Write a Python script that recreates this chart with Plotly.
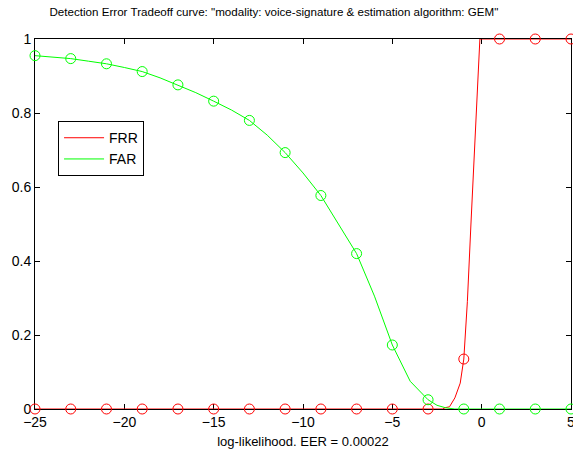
import plotly.graph_objects as go

# Line samples
far_x = [-25, -24, -23, -22, -21, -20, -19, -18, -17, -16, -15, -14, -13, -12, -11, -10,
         -9, -8, -7, -6, -5, -4, -3, -2.5, -2, -1.5, -1, 0, 1, 2, 3, 4, 5]
far_y = [0.955, 0.951, 0.947, 0.940, 0.933, 0.923, 0.912, 0.895, 0.876, 0.855, 0.832, 0.808,
         0.780, 0.740, 0.693, 0.638, 0.577, 0.500, 0.420, 0.305, 0.173, 0.075, 0.025, 0.010,
         0.003, 0.0, 0.0, 0.0, 0.0, 0.0, 0.0, 0.0, 0.0]

frr_x = [-25, -20, -15, -10, -5, -2.2, -2.0, -1.8, -1.5, -1.2, -1.0, -0.8, -0.6, -0.4, -0.2, -0.1, 0, 1, 3, 5]
frr_y = [0.0, 0.0, 0.0, 0.0, 0.0, 0.0, 0.004, 0.006, 0.03, 0.07, 0.135, 0.29, 0.50, 0.72, 0.90, 1.0, 1.0, 1.0, 1.0, 1.0]

# Marker samples (every 2 units)
mk_x = [-25, -23, -21, -19, -17, -15, -13, -11, -9, -7, -5, -3, -1, 1, 3, 5]
far_mk = [0.955, 0.947, 0.933, 0.912, 0.876, 0.832, 0.780, 0.693, 0.577, 0.420, 0.173, 0.025,
          0.0, 0.0, 0.0, 0.0]
frr_mk = [0.0, 0.0, 0.0, 0.0, 0.0, 0.0, 0.0, 0.0, 0.0, 0.0, 0.0, 0.0, 0.135, 1.0, 1.0, 1.0]

x_ticks = [-25, -20, -15, -10, -5, 0, 5]
y_ticks = [0, 0.2, 0.4, 0.6, 0.8, 1]
y_labels = ["0", "0.2", "0.4", "0.6", "0.8", "1"]

RED = "#ff0000"
GREEN = "#00ff00"

fig = go.Figure()
fig.add_trace(go.Scatter(x=frr_x, y=frr_y, mode="lines", name="FRR",
                         line=dict(color=RED, width=1), cliponaxis=False))
fig.add_trace(go.Scatter(x=far_x, y=far_y, mode="lines", name="FAR",
                         line=dict(color=GREEN, width=1), cliponaxis=False))
fig.add_trace(go.Scatter(x=mk_x, y=frr_mk, mode="markers", showlegend=False,
                         marker=dict(symbol="circle-open", size=10, color=RED,
                                     line=dict(width=1, color=RED)), cliponaxis=False))
fig.add_trace(go.Scatter(x=mk_x, y=far_mk, mode="markers", showlegend=False,
                         marker=dict(symbol="circle-open", size=10, color=GREEN,
                                     line=dict(width=1, color=GREEN)), cliponaxis=False))

font = "Liberation Sans, Arial, sans-serif"
fig.update_layout(
    width=573, height=459,
    margin=dict(l=35, r=2, t=39, b=50),
    paper_bgcolor="white", plot_bgcolor="white",
    font=dict(family=font, size=14, color="black"),
    title=dict(text='Detection Error Tradeoff curve: "modality: voice-signature & estimation algorithm: GEM"',
               x=0.478, xanchor="center", y=0.983, yanchor="top",
               font=dict(family=font, size=11.6, color="black")),
    showlegend=True,
    legend=dict(x=0.043, y=0.778, xanchor="left", yanchor="top",
                bgcolor="white", bordercolor="black", borderwidth=1,
                font=dict(family=font, size=14, color="black"),
                itemwidth=40, tracegroupgap=4),
)
fig.update_xaxes(range=[-25, 5], tickvals=x_ticks, ticks="inside", ticklen=5,
                 tickcolor="black", showline=True, linecolor="black", linewidth=1,
                 mirror="ticks", showgrid=False, zeroline=False, layer="below traces",
                 ticklabeloverflow="allow", automargin=False,
                 tickfont=dict(family=font, size=14),
                 title=dict(text="log-likelihood. EER = 0.00022", standoff=8,
                            font=dict(family=font, size=13)))
fig.update_yaxes(range=[0, 1], tickvals=y_ticks, ticktext=y_labels, ticks="inside", ticklen=5,
                 tickcolor="black", showline=True, linecolor="black", linewidth=1,
                 mirror="ticks", showgrid=False, zeroline=False, layer="below traces",
                 ticklabeloverflow="allow", automargin=False,
                 tickfont=dict(family=font, size=14))

fig.write_html("out.html")
